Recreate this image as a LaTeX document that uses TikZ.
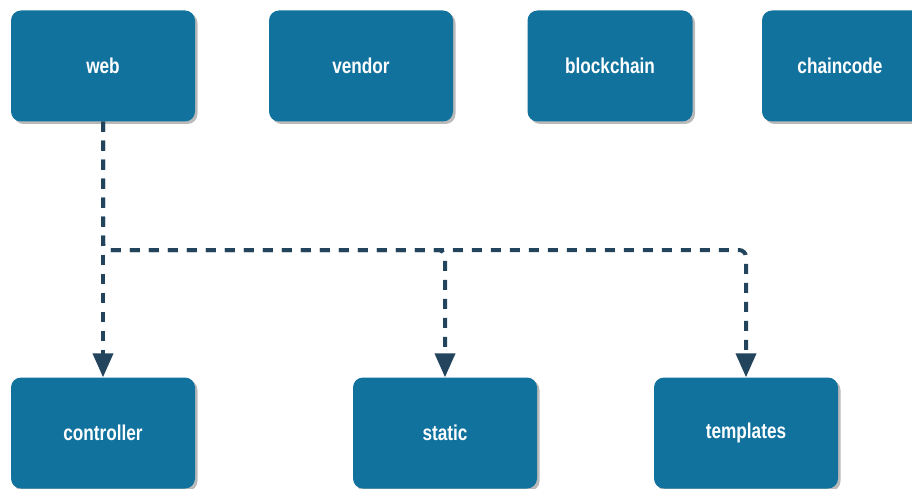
\documentclass[tikz,border=0pt]{standalone}
\usepackage{fontspec}
\setmainfont[FakeStretch=0.8]{Liberation Sans}
\usetikzlibrary{shadows,arrows.meta}
\definecolor{boxblue}{HTML}{11729E}
\definecolor{linecol}{HTML}{23445D}
\tikzset{
  box/.style={rectangle, rounded corners=10pt, fill=boxblue, minimum width=184pt, minimum height=111pt,
    text=white, font=\bfseries\fontsize{21.5}{24}\selectfont,
    drop shadow={shadow xshift=2.5pt, shadow yshift=-2.5pt, opacity=0.45, fill=black!60}},
  link/.style={draw=linecol, line width=4pt, dash pattern=on 10pt off 9pt, rounded corners=7pt,
    -{Triangle[length=24pt,width=20pt]}}
}
\begin{document}
\begin{tikzpicture}[x=1pt,y=-1pt]
\useasboundingbox (0,0) rectangle (912,489);
\begin{scope}
\clip (0,0) rectangle (912,489);
\node[box] (web) at (103,66) {web};
\node[box] (vendor) at (361,66) {vendor};
\node[box, minimum width=165pt] (blockchain) at (610,66) {blockchain};
\node[box, minimum width=170pt] (chaincode) at (847,66) {\hspace*{-14pt}chaincode};
\node[box] (controller) at (103,433) {controller};
\node[box] (static) at (445,433) {static};
\node[box] (templates) at (746,433) {templates};
\end{scope}
\coordinate (j) at (103,250);
\coordinate (s) at (445,250);
\coordinate (t) at (746,250);
\draw[link] (web.south) -- (controller.north);
\draw[link] (web.south) -- (j) -- (s) -- (static.north);
\draw[link] (web.south) -- (j) -- (t) -- (templates.north);
\end{tikzpicture}
\end{document}
